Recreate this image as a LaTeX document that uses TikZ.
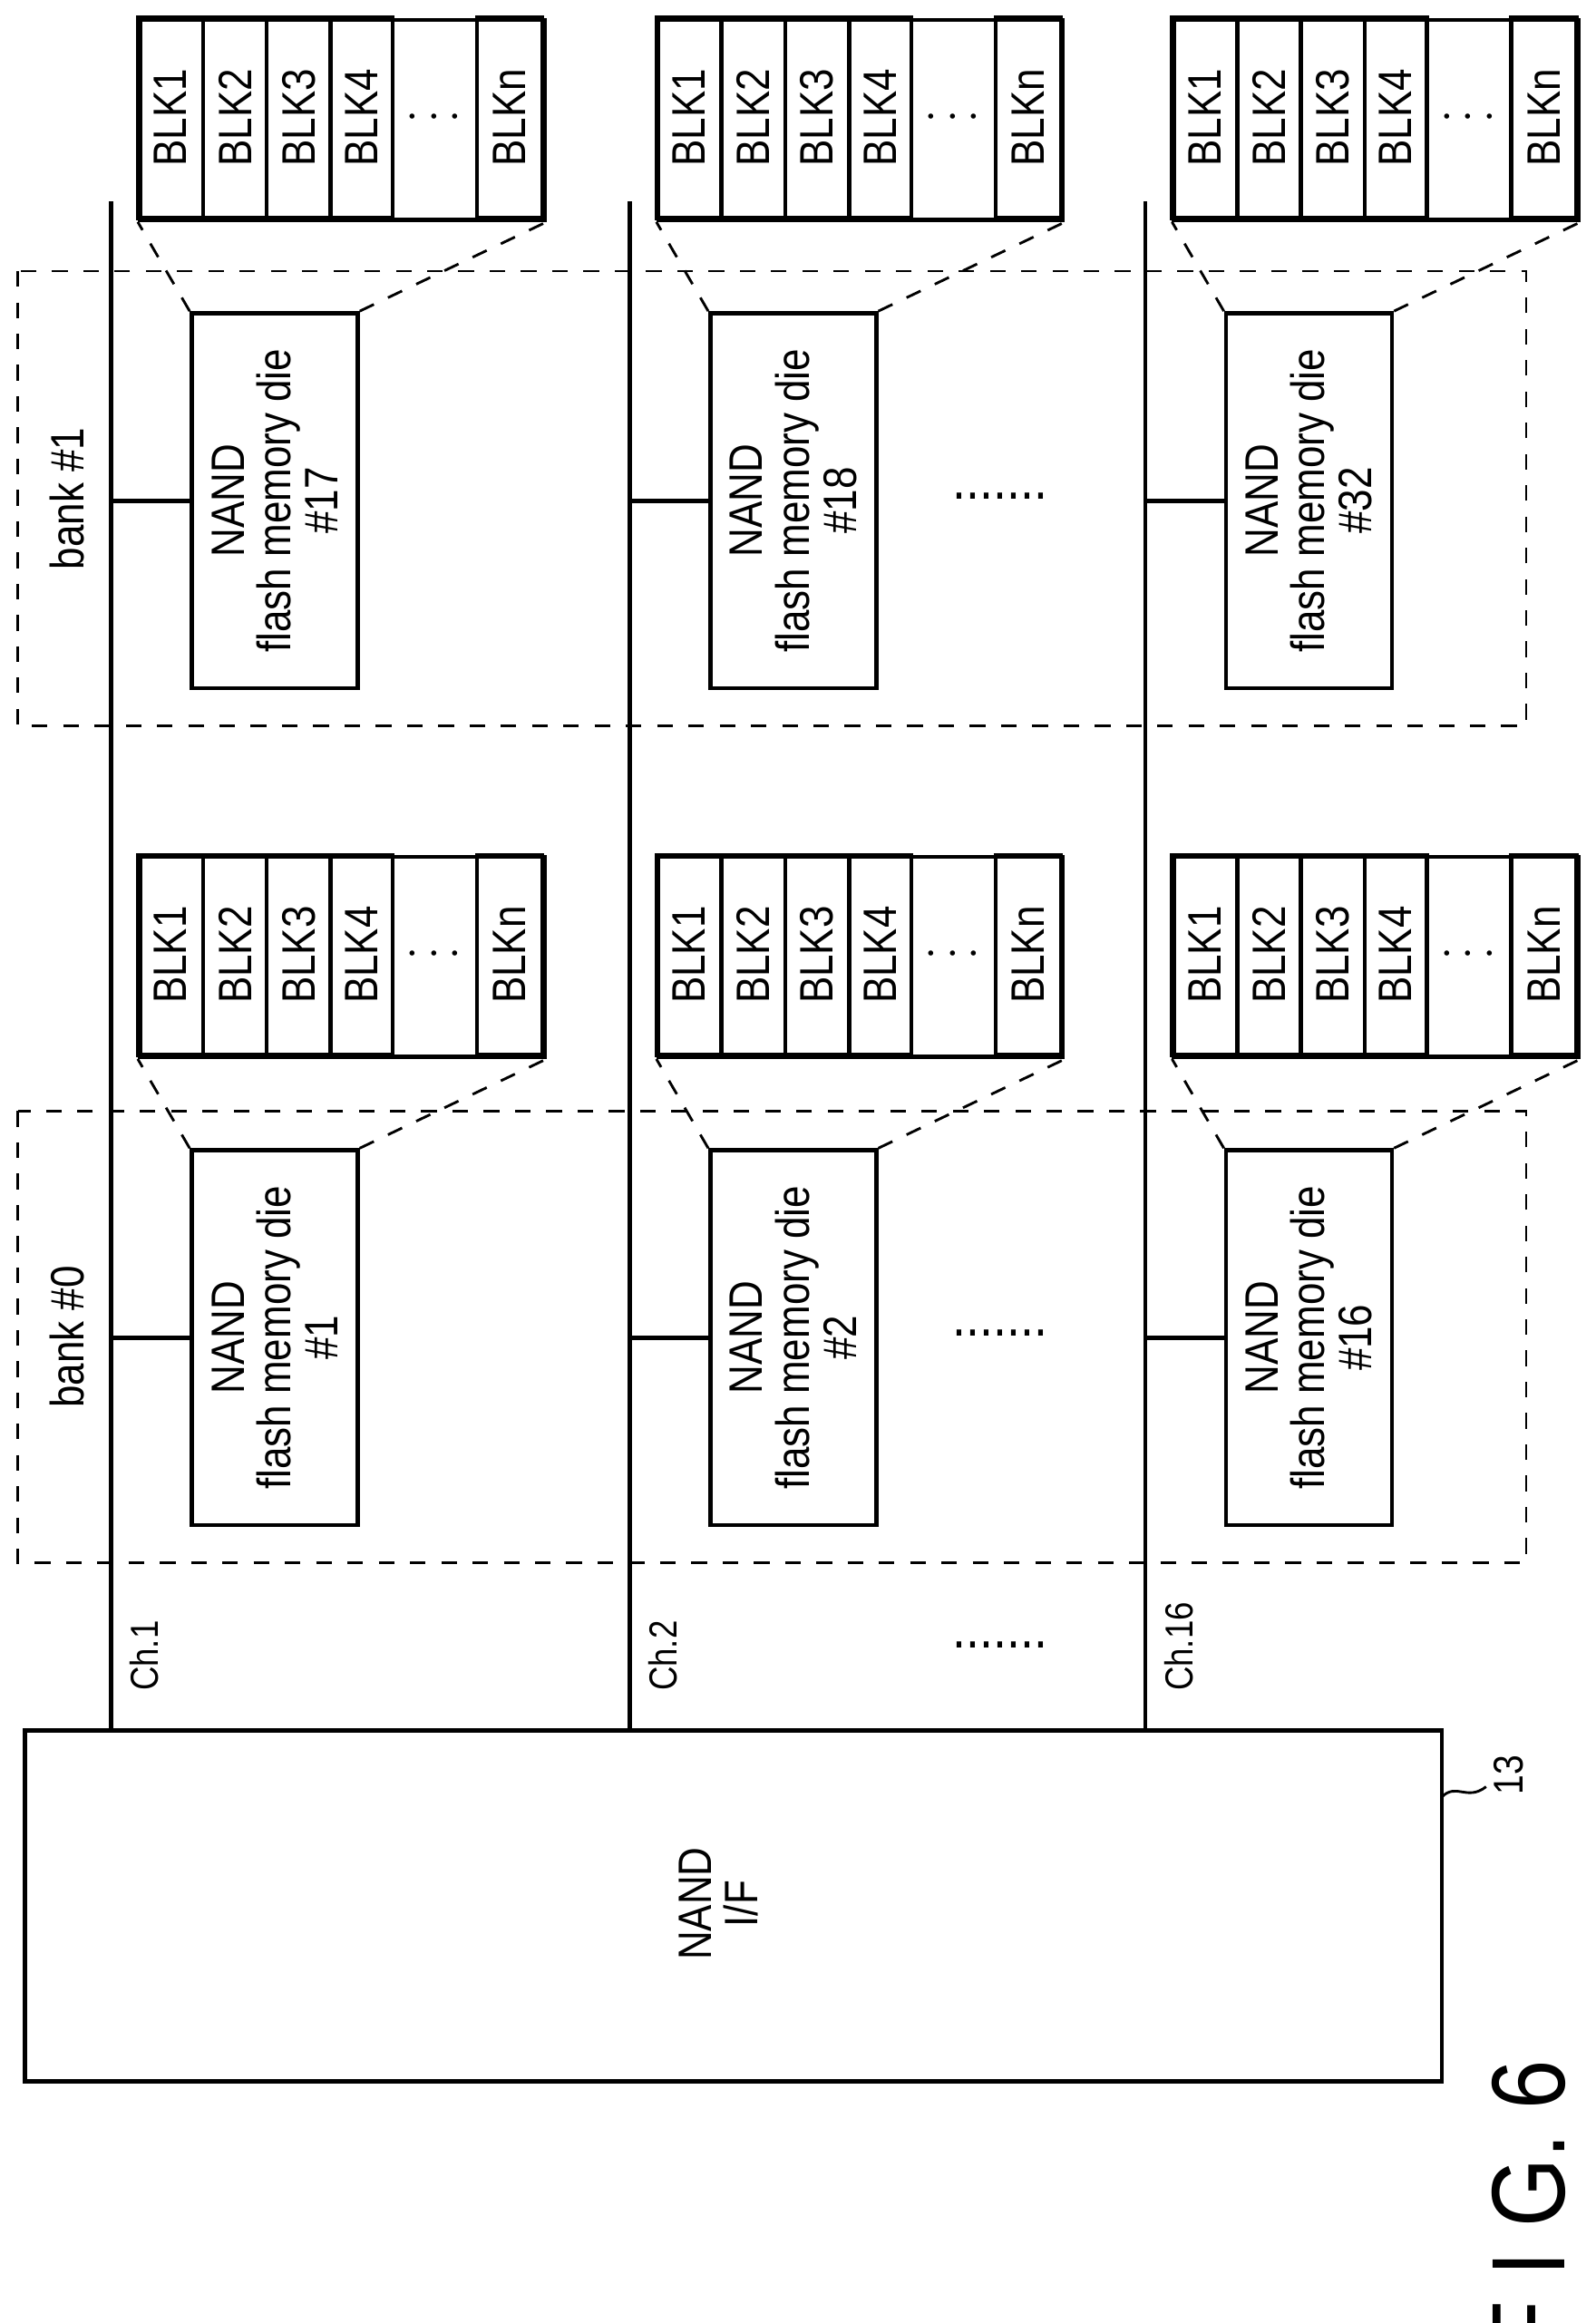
\documentclass[tikz,border=0pt]{standalone}
\usepackage{fontspec}
\setmainfont{Liberation Sans}[FakeStretch=0.85]
\begin{document}
\begin{tikzpicture}[x=0.01cm,y=-0.01cm,
  ln/.style={line width=0.8pt},
  dsh/.style={dashed,line width=0.5pt},
  txt/.style={rotate=90,font=\fontsize{9}{9}\selectfont,align=center,inner sep=0},
  sm/.style={rotate=90,font=\fontsize{7.5}{8}\selectfont,anchor=south west,inner sep=0}]
\useasboundingbox (0,0) rectangle (1077,1568);
% NAND I/F
\draw[ln] (17,1168) rectangle (973,1405);
\node[txt] (nif) at (485,1285) {NAND\\I/F};
\node[rotate=90,font=\fontsize{8}{9}\selectfont] (l13) at (1018,1198) {13};
\draw[line width=0.5pt] (973,1213) .. controls (983,1203) and (990,1216) .. (1003,1206);
% channels
\foreach \cx/\cl/\nm in {75/Ch.1/c1,425/Ch.2/c2,773/Ch.16/c16}{
  \coordinate (\nm t) at (\cx,136);
  \coordinate (\nm b) at (\cx,1168);
  \draw[ln] (\nm t) -- (\nm b);
  \node[sm] (\nm l) at (\cx+33,1142) {\cl};
}
% dots
\foreach \yy/\nm in {1110/d1,900/d2,335/d3}{
  \node[font=\fontsize{11}{11}\selectfont] (\nm) at (675,\yy) {.......};
}
% banks
\foreach \yt/\yb/\bn/\nm in {750/1055/0/b0,183/490/1/b1}{
  \draw[dsh] (12,\yt) rectangle (1030,\yb);
  \node[txt] (\nm l) at (45,{(\yt+\yb)/2}) {bank \#\bn};
}
% dies and block stacks
\foreach \cx/\dn/\yt/\nm in {75/1/775/a,425/2/775/b,773/16/775/c,75/17/210/d,425/18/210/e,773/32/210/f}{
  \pgfmathsetmacro{\dx}{\cx+53}
  \pgfmathsetmacro{\ym}{\yt+128}
  \pgfmathsetmacro{\sx}{\cx+18}
  \pgfmathsetmacro{\sb}{\yt-63}
  \pgfmathsetmacro{\st}{\yt-198}
  \node[ln,draw,minimum width=112*0.01cm,minimum height=253*0.01cm,anchor=north west,inner sep=0] (die\nm) at (\dx,\yt) {};
  \node[txt] at (die\nm.center) {NAND\\flash memory die\\\#\dn};
  \coordinate (ch\nm) at (\cx,\ym);
  \draw[ln] (ch\nm) -- (die\nm.west |- ch\nm);
  \node[ln,draw,minimum width=273*0.01cm,minimum height=135*0.01cm,anchor=north west,inner sep=0] (stk\nm) at (\sx,\st) {};
  \foreach \a/\b/\t in {0/44/BLK1,44/87/BLK2,87/130/BLK3,130/172/BLK4,229/273/BLKn}{
    \draw[ln] (\sx+\a,\st) rectangle (\sx+\b,\sb);
    \node[txt] at ({\sx+(\a+\b)/2},{(\st+\sb)/2}) {\t};
  }
  \node[font=\fontsize{9}{9}\selectfont] at ({\sx+200},{(\st+\sb)/2}) {$\cdots$};
  \draw[dsh] (die\nm.north west) -- (stk\nm.south west);
  \draw[dsh] (die\nm.north east) -- (stk\nm.south east);
}
\node[rotate=90,font=\fontsize{20}{20}\selectfont] (fig) at (1032,1490) {F I G. 6};
\end{tikzpicture}
\end{document}
